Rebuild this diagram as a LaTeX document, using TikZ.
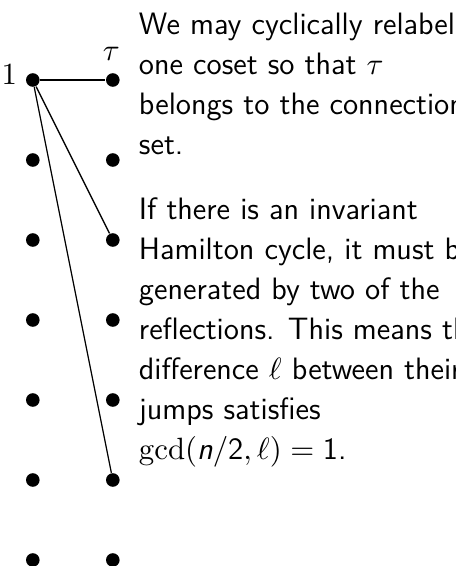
\documentclass[tikz,border=0pt]{standalone}
\usepackage{amsmath}
\begin{document}
\begin{tikzpicture}[
  dot/.style={circle, fill, inner sep=0pt, minimum size=0.17cm},
  edge/.style={line width=0.45pt},
  lbl/.style={inner sep=0pt, font=\fontsize{11}{13}\selectfont},
  note/.style={anchor=north west, inner sep=0pt, align=left, font=\sffamily\fontsize{11}{14.2}\selectfont}
]
\useasboundingbox (0,0) rectangle (5.6875,-7.075);
\clip (0,0) rectangle (5.6875,-7.075);
\foreach \i in {1,...,7} {
  \node[dot] (l\i) at (0.41,-\i) {};
  \node[dot] (r\i) at (1.41,-\i) {};
}
\node[lbl, anchor=east, xshift=-2.8pt, yshift=2.1pt] (one) at (l1.west) {$1$};
\node[lbl, anchor=south, yshift=4pt, xshift=-0.5pt] (tau) at (r1.north) {$\tau$};
\draw[edge] (l1) -- (r1);
\draw[edge] (l1) -- (r3);
\draw[edge] (l1) -- (r6);
\node[note] (txt) at (1.73,-0.16) {We may cyclically relabel\\
one coset so that $\tau$\\
belongs to the connection\\
set.\\[8.9pt]
If there is an invariant\\
Hamilton cycle, it must be\\
generated by two of the\\
reflections. This means that the\\
difference $\ell$ between their\\
jumps satisfies\\
$\gcd(\textsf{\textit{n}}/\textsf{2}, \ell) = \textsf{1}$.};
\end{tikzpicture}
\end{document}
